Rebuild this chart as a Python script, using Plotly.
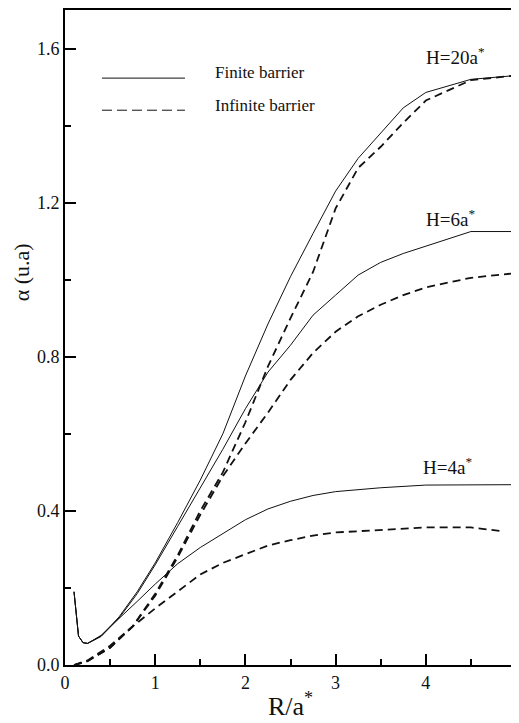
import plotly.graph_objects as go

# ---- data ----
x_fin_h20 = [0.1, 0.15, 0.2, 0.25, 0.4, 0.6, 0.8, 1.0, 1.25, 1.5, 1.75, 2.0, 2.25, 2.5, 2.75, 3.0, 3.25, 3.5, 3.75, 4.0, 4.5, 5.0]
y_fin_h20 = [0.19, 0.075, 0.058, 0.056, 0.075, 0.125, 0.19, 0.265, 0.37, 0.48, 0.60, 0.75, 0.885, 1.008, 1.12, 1.23, 1.315, 1.38, 1.446, 1.486, 1.52, 1.53]

x_fin_h6 = [0.1, 0.15, 0.2, 0.25, 0.4, 0.6, 0.8, 1.0, 1.25, 1.5, 1.75, 2.0, 2.25, 2.5, 2.75, 3.0, 3.25, 3.5, 3.75, 4.5, 5.0]
y_fin_h6 = [0.19, 0.075, 0.058, 0.056, 0.074, 0.122, 0.185, 0.26, 0.36, 0.46, 0.56, 0.665, 0.76, 0.83, 0.908, 0.96, 1.012, 1.045, 1.068, 1.125, 1.125]

x_fin_h4 = [0.1, 0.15, 0.2, 0.25, 0.4, 0.6, 0.8, 1.0, 1.25, 1.5, 1.75, 2.0, 2.25, 2.5, 2.75, 3.0, 3.5, 4.0, 5.0]
y_fin_h4 = [0.19, 0.075, 0.058, 0.056, 0.077, 0.12, 0.165, 0.21, 0.263, 0.305, 0.34, 0.377, 0.405, 0.425, 0.44, 0.45, 0.46, 0.467, 0.468]

x_inf_h20 = [0.1, 0.25, 0.5, 0.75, 1.0, 1.25, 1.5, 1.75, 2.0, 2.25, 2.5, 2.75, 3.0, 3.25, 3.5, 3.75, 4.0, 4.5, 5.0]
y_inf_h20 = [0.0, 0.01, 0.045, 0.1, 0.185, 0.285, 0.40, 0.50, 0.63, 0.775, 0.90, 1.02, 1.185, 1.29, 1.345, 1.407, 1.465, 1.518, 1.53]

x_inf_h6 = [0.1, 0.25, 0.5, 0.75, 1.0, 1.25, 1.5, 1.75, 2.0, 2.25, 2.5, 2.75, 3.0, 3.25, 3.5, 3.75, 4.0, 4.5, 5.0]
y_inf_h6 = [0.0, 0.01, 0.045, 0.1, 0.18, 0.28, 0.39, 0.49, 0.575, 0.655, 0.74, 0.81, 0.865, 0.905, 0.935, 0.96, 0.98, 1.005, 1.017]

x_inf_h4 = [0.1, 0.25, 0.5, 0.75, 1.0, 1.25, 1.5, 1.75, 2.0, 2.25, 2.5, 2.75, 3.0, 3.5, 4.0, 4.5, 4.85]
y_inf_h4 = [0.0, 0.012, 0.05, 0.1, 0.147, 0.19, 0.235, 0.265, 0.288, 0.31, 0.324, 0.336, 0.344, 0.35, 0.357, 0.357, 0.347]

curve_labels = ["H=20a<sup>*</sup>", "H=6a<sup>*</sup>", "H=4a<sup>*</sup>"]
label_x = [3.975, 3.985, 3.95]
label_y = [1.58, 1.16, 0.517]

legend_names = ["Finite barrier", "Infinite barrier"]

FONT = "Liberation Serif"
fig = go.Figure()

solid = dict(color="#111", width=1)
dashed = dict(color="#111", width=1.8, dash="8px,5px")

for xs, ys in [(x_fin_h20, y_fin_h20), (x_fin_h6, y_fin_h6), (x_fin_h4, y_fin_h4)]:
    fig.add_trace(go.Scatter(x=xs, y=ys, mode="lines", line=solid,
                             name=legend_names[0], showlegend=False))
for xs, ys in [(x_inf_h20, y_inf_h20), (x_inf_h6, y_inf_h6), (x_inf_h4, y_inf_h4)]:
    fig.add_trace(go.Scatter(x=xs, y=ys, mode="lines", line=dashed,
                             name=legend_names[1], showlegend=False))

# curve labels
for t, lx, ly in zip(curve_labels, label_x, label_y):
    fig.add_annotation(x=lx, y=ly, text=t, showarrow=False, xanchor="left",
                       yanchor="middle", font=dict(family=FONT, size=19, color="#111"))

# hand-drawn legend (line samples + text), paper coordinates
fig.add_shape(type="line", xref="paper", yref="paper", x0=0.082, x1=0.266, y0=0.896, y1=0.896,
              line=dict(color="#111", width=1))
fig.add_shape(type="line", xref="paper", yref="paper", x0=0.082, x1=0.266, y0=0.847, y1=0.847,
              line=dict(color="#111", width=1, dash="10px,5px"))
fig.add_annotation(xref="paper", yref="paper", x=0.328, y=0.904, text=legend_names[0],
                   showarrow=False, xanchor="left", yanchor="middle",
                   font=dict(family=FONT, size=17, color="#111"))
fig.add_annotation(xref="paper", yref="paper", x=0.328, y=0.854, text=legend_names[1],
                   showarrow=False, xanchor="left", yanchor="middle",
                   font=dict(family=FONT, size=17, color="#111"))

# axis titles as annotations
fig.add_annotation(xref="paper", yref="paper", x=-0.097, y=0.6, text="α (u.a)",
                   textangle=-90, showarrow=False, xanchor="center", yanchor="middle",
                   font=dict(family=FONT, size=22, color="#111"))
fig.add_annotation(xref="paper", yref="paper", x=0.5, y=-0.061, text="R/a<sup>*</sup>",
                   showarrow=False, xanchor="center", yanchor="middle",
                   font=dict(family=FONT, size=26, color="#111"))

axis_common = dict(showgrid=False, zeroline=False, showline=True, linecolor="#000",
                   linewidth=2, mirror=True, ticks="inside", ticklen=11, tickwidth=2,
                   tickcolor="#000", automargin=False, ticklabeloverflow="allow",
                   tickfont=dict(family=FONT, size=18, color="#111"))

fig.update_xaxes(range=[0, 5], dtick=1, tick0=0,
                 minor=dict(dtick=0.5, ticks="inside", ticklen=6, tickwidth=2, tickcolor="#000"),
                 **axis_common)
fig.update_yaxes(range=[0, 1.70], dtick=0.4, tick0=0, tickformat=".1f",
                 minor=dict(dtick=0.2, ticks="inside", ticklen=6, tickwidth=2, tickcolor="#000"),
                 **axis_common)

# page body has an 8px margin: shrink the figure so the plot area lands where the reference has it
fig.update_layout(width=511, height=715, margin=dict(l=57, r=3, t=2, b=58),
                  paper_bgcolor="white", plot_bgcolor="white", showlegend=False)

fig.write_html("out.html")
